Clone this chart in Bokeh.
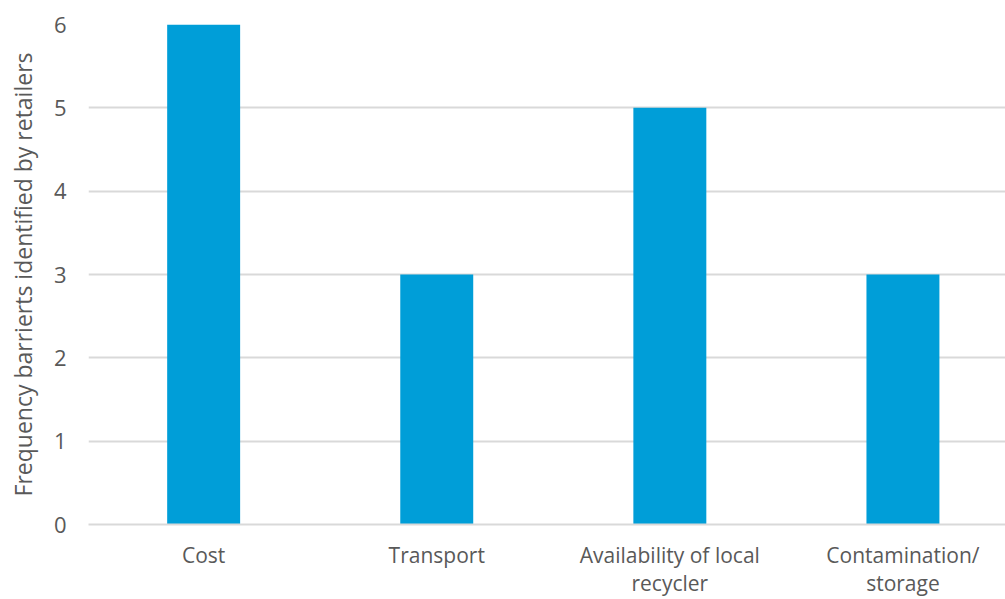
from bokeh.plotting import figure
from bokeh.models import ColumnDataSource, Range1d, FixedTicker
from bokeh.embed import file_html
from bokeh.resources import INLINE

# Barriers named by retailers and how often each was mentioned
categories = ["Cost", "Transport", "Availability of local\nrecycler", "Contamination/\nstorage"]
frequency = [6, 3, 5, 3]
y_ticks = [0, 1, 2, 3, 4, 5, 6]

positions = [i + 0.5 for i in range(len(categories))]
source = ColumnDataSource(dict(x=positions, top=frequency))

FONT = "Open Sans"
TEXT = "#595959"
GRID = "#d9d9d9"

p = figure(
    width=1005, height=599,
    x_range=Range1d(0.006, 3.94), y_range=Range1d(0, 6),
    output_backend="svg", toolbar_location=None,
    min_border_left=88, min_border_right=0,
    min_border_top=24, min_border_bottom=70,
)
p.outline_line_color = None
p.background_fill_color = "white"
p.border_fill_color = "white"

p.vbar(x="x", top="top", width=0.313, bottom=0, source=source,
       fill_color="#009ED8", line_color=None)

# x axis: one (possibly wrapped) category name under each bar
p.xaxis.ticker = FixedTicker(ticks=positions)
p.xaxis.major_label_overrides = {pos: cat for pos, cat in zip(positions, categories)}
p.xaxis.axis_line_color = GRID
p.xaxis.axis_line_width = 2
p.xaxis.major_tick_line_color = None
p.xaxis.minor_tick_line_color = None
p.xaxis.major_label_text_font = FONT
p.xaxis.major_label_text_font_size = "21px"
p.xaxis.major_label_text_color = TEXT
p.xaxis.major_label_text_line_height = 1.0
p.xaxis.major_label_standoff = 10
p.xgrid.grid_line_color = None

# y axis
p.yaxis.ticker = FixedTicker(ticks=y_ticks)
p.yaxis.axis_line_color = None
p.yaxis.major_tick_line_color = None
p.yaxis.minor_tick_line_color = None
p.yaxis.major_label_text_font = FONT
p.yaxis.major_label_text_font_size = "22px"
p.yaxis.major_label_text_color = TEXT
p.yaxis.major_label_standoff = 16
p.yaxis.axis_label = "Frequency barrierts identified by retailers"
p.yaxis.axis_label_text_font = FONT
p.yaxis.axis_label_text_font_size = "23px"
p.yaxis.axis_label_text_font_style = "normal"
p.yaxis.axis_label_text_color = TEXT
p.yaxis.axis_label_standoff = 12
p.ygrid.grid_line_color = GRID
p.ygrid.grid_line_width = 2

open("out.html", "w").write(file_html(p, INLINE))
